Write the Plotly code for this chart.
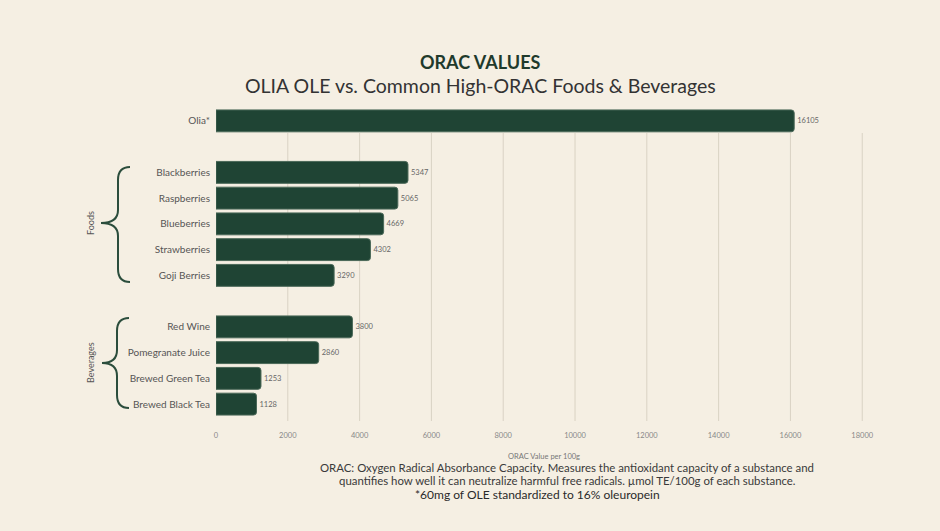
import plotly.graph_objects as go

# ---- data ----
categories = ["Olia*", "Blackberries", "Raspberries", "Blueberries", "Strawberries",
              "Goji Berries", "Red Wine", "Pomegranate Juice", "Brewed Green Tea",
              "Brewed Black Tea"]
orac_values = [16105, 5347, 5065, 4669, 4302, 3290, 3800, 2860, 1253, 1128]
category_order = ["Olia*", " ", "Blackberries", "Raspberries", "Blueberries",
                  "Strawberries", "Goji Berries", "  ", "Red Wine", "Pomegranate Juice",
                  "Brewed Green Tea", "Brewed Black Tea"]
x_ticks = [0, 2000, 4000, 6000, 8000, 10000, 12000, 14000, 16000, 18000]
x_tick_labels = ["0", "2000", "4000", "6000", "8000", "10000", "12000", "14000",
                 "16000", "18000"]
group_labels = ["Foods", "Beverages"]
footnote_lines = [
    "ORAC: Oxygen Radical Absorbance Capacity. Measures the antioxidant capacity of a substance and",
    "quantifies how well it can neutralize harmful free radicals. µmol TE/100g of each substance.",
    "*60mg of OLE standardized to 16% oleuropein",
]

# ---- layout constants (pixels) ----
W, H = 940, 531
L, R, T, B = 216, 67, 108, 114
PW, PH = W - L - R, H - T - B
BG = "#f5efe3"
GREEN = "#1f4434"
FONT = "Lato"


def px(x):
    return (x - L) / PW


def py(y):
    return (H - B - y) / PH


fig = go.Figure()
fig.add_trace(go.Bar(
    y=categories, x=orac_values, orientation="h",
    marker=dict(color=GREEN, line=dict(color="#4a6858", width=1), cornerradius=3),
    text=[str(v) for v in orac_values], textposition="outside",
    textfont=dict(size=7.5, color="#666666", family=FONT),
    cliponaxis=False, hoverinfo="x+y",
))

shapes = []
for v in x_ticks[1:]:
    shapes.append(dict(type="line", xref="x", yref="paper", x0=v, x1=v,
                       y0=py(421), y1=py(133), layer="below",
                       line=dict(color="#d9d2c4", width=1)))


def brace(xe, xv, xt, y0, ym, y1):
    pts = (f"M {px(xe)},{py(y0)} Q {px(xv)},{py(y0)} {px(xv)},{py(y0+13)} "
           f"L {px(xv)},{py(ym-13)} Q {px(xv)},{py(ym)} {px(xt)},{py(ym)} "
           f"Q {px(xv)},{py(ym)} {px(xv)},{py(ym+13)} "
           f"L {px(xv)},{py(y1-13)} Q {px(xv)},{py(y1)} {px(xe)},{py(y1)}")
    return dict(type="path", xref="paper", yref="paper", path=pts,
                line=dict(color="#2b4d3c", width=2))


shapes.append(brace(130, 118, 101, 167, 223, 282))
shapes.append(brace(129, 117, 102, 318, 363, 408))

annotations = [
    dict(text="<b>ORAC VALUES</b>", x=px(480), y=py(62), xref="paper", yref="paper",
         showarrow=False, font=dict(size=18, color="#1f3a2c", family=FONT, weight=900),
         xanchor="center", yanchor="middle"),
    dict(text="OLIA OLE vs. Common High-ORAC Foods &amp; Beverages", x=px(480), y=py(85),
         xref="paper", yref="paper", showarrow=False,
         font=dict(size=19.5, color="#333333", family=FONT),
         xanchor="center", yanchor="middle"),
    dict(text="ORAC Value per 100g", x=px(544), y=py(456), xref="paper", yref="paper",
         showarrow=False, font=dict(size=7.5, color="#777777", family=FONT),
         xanchor="center", yanchor="middle"),
    dict(text=footnote_lines[0], x=px(567), y=py(467), xref="paper", yref="paper",
         showarrow=False, font=dict(size=11.4, color="#3a3a3a", family=FONT),
         xanchor="center", yanchor="middle"),
    dict(text=footnote_lines[1], x=px(567), y=py(480.5), xref="paper", yref="paper",
         showarrow=False, font=dict(size=11.4, color="#3a3a3a", family=FONT),
         xanchor="center", yanchor="middle"),
    dict(text=footnote_lines[2], x=px(537), y=py(495), xref="paper", yref="paper",
         showarrow=False, font=dict(size=12, color="#2a2a2a", family=FONT),
         xanchor="center", yanchor="middle"),
    dict(text=group_labels[0], x=px(90), y=py(223), xref="paper", yref="paper",
         showarrow=False, textangle=-90, font=dict(size=9, color="#555555", family=FONT),
         xanchor="center", yanchor="middle"),
    dict(text=group_labels[1], x=px(90), y=py(363), xref="paper", yref="paper",
         showarrow=False, textangle=-90, font=dict(size=9, color="#555555", family=FONT),
         xanchor="center", yanchor="middle"),
]

fig.update_layout(
    width=W, height=H,
    margin=dict(l=L, r=R, t=T, b=B, autoexpand=False),
    paper_bgcolor=BG, plot_bgcolor=BG,
    bargap=0.15, showlegend=False,
    shapes=shapes, annotations=annotations,
    font=dict(family=FONT),
    xaxis=dict(range=[0, 18300], tickvals=x_ticks, ticktext=x_tick_labels,
               showgrid=False, zeroline=False,
               showline=False, ticks="", ticklabelstandoff=12,
               tickfont=dict(size=7.5, color="#888888", family=FONT)),
    yaxis=dict(categoryorder="array", categoryarray=category_order,
               autorange="reversed", showgrid=False, zeroline=False, showline=False,
               ticks="", ticklabelstandoff=5,
               tickfont=dict(size=10, color="#555555", family=FONT)),
)

fig.write_html("out.html")
